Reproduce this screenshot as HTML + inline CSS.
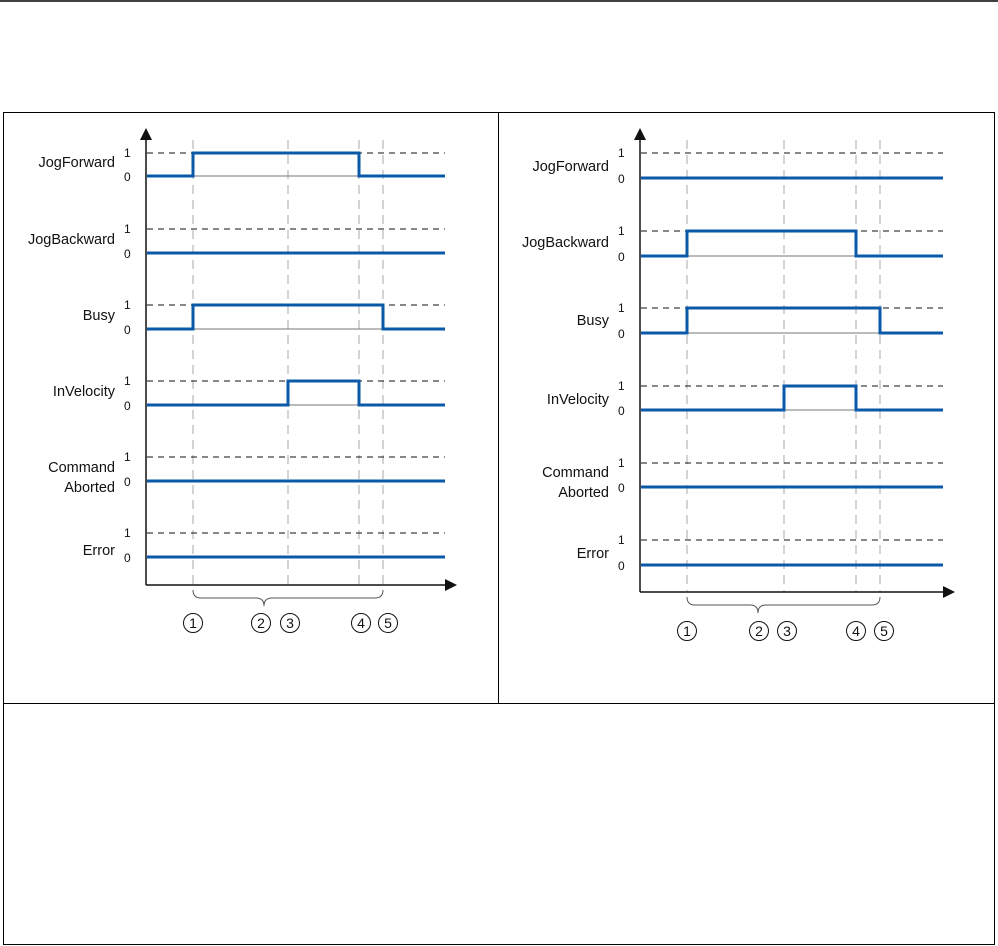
<!DOCTYPE html>
<html><head><meta charset="utf-8"><style>
body{margin:0;background:#fff;}
svg{display:block;font-family:"Liberation Sans",Arial,sans-serif;}
.lbl{font-size:14.5px;fill:#111;text-anchor:end}
.num{font-size:12px;fill:#111}
.dash{stroke:#111;stroke-width:1;stroke-dasharray:6,5}
.vg{stroke:#aaa;stroke-width:1;stroke-dasharray:9,6}
.sig{stroke:#0a5aa8;stroke-width:3;fill:none}
.base{stroke:#777;stroke-width:1}
.ax{stroke:#111;stroke-width:1.5}
.circ{fill:none;stroke:#111;stroke-width:1}
.ct{font-size:14px;fill:#111;text-anchor:middle}
</style></head><body>
<svg width="998" height="946" viewBox="0 0 998 946">
<line x1="0" y1="1" x2="998" y2="1" stroke="#000" stroke-width="1.5"/>
<rect x="3.5" y="112.5" width="991" height="832" fill="none" stroke="#000" stroke-width="1"/>
<line x1="498.5" y1="112" x2="498.5" y2="703" stroke="#000"/>
<line x1="3" y1="703.5" x2="995" y2="703.5" stroke="#000"/>

<!-- LEFT PANEL -->
<g>
<line class="vg" x1="193" y1="140" x2="193" y2="585"/>
<line class="vg" x1="288" y1="140" x2="288" y2="585"/>
<line class="vg" x1="359" y1="140" x2="359" y2="585"/>
<line class="vg" x1="383" y1="140" x2="383" y2="585"/>
<line class="ax" x1="146" y1="138" x2="146" y2="585"/>
<polygon points="146,128 140,140 152,140" fill="#111"/>
<line class="ax" x1="146" y1="585" x2="447" y2="585"/>
<polygon points="457,585 445,579 445,591" fill="#111"/>

<line class="dash" x1="147" y1="153" x2="445" y2="153"/>
<line class="dash" x1="147" y1="229" x2="445" y2="229"/>
<line class="dash" x1="147" y1="305" x2="445" y2="305"/>
<line class="dash" x1="147" y1="381" x2="445" y2="381"/>
<line class="dash" x1="147" y1="457" x2="445" y2="457"/>
<line class="dash" x1="147" y1="533" x2="445" y2="533"/>

<line class="base" x1="193" y1="176" x2="359" y2="176"/>
<line class="base" x1="193" y1="329" x2="383" y2="329"/>
<line class="base" x1="288" y1="405" x2="359" y2="405"/>

<polyline class="sig" points="147,176 193,176 193,153 359,153 359,176 445,176"/>
<polyline class="sig" points="147,253 445,253"/>
<polyline class="sig" points="147,329 193,329 193,305 383,305 383,329 445,329"/>
<polyline class="sig" points="147,405 288,405 288,381 359,381 359,405 445,405"/>
<polyline class="sig" points="147,481 445,481"/>
<polyline class="sig" points="147,557 445,557"/>

<text class="lbl" x="115" y="167">JogForward</text>
<text class="lbl" x="115" y="244">JogBackward</text>
<text class="lbl" x="115" y="320">Busy</text>
<text class="lbl" x="115" y="396">InVelocity</text>
<text class="lbl" x="115" y="472">Command</text>
<text class="lbl" x="115" y="492">Aborted</text>
<text class="lbl" x="115" y="555">Error</text>
<text class="num" x="124" y="157">1</text><text class="num" x="124" y="181">0</text>
<text class="num" x="124" y="233">1</text><text class="num" x="124" y="258">0</text>
<text class="num" x="124" y="309">1</text><text class="num" x="124" y="334">0</text>
<text class="num" x="124" y="385">1</text><text class="num" x="124" y="410">0</text>
<text class="num" x="124" y="461">1</text><text class="num" x="124" y="486">0</text>
<text class="num" x="124" y="537">1</text><text class="num" x="124" y="562">0</text>

<path d="M193,590 Q193,598 201,598 L256,598 Q264,598 264,606 Q264,598 272,598 L375,598 Q383,598 383,590" fill="none" stroke="#555" stroke-width="1"/>
<circle class="circ" cx="193" cy="623" r="9.5"/><text class="ct" x="193" y="628">1</text>
<circle class="circ" cx="261" cy="623" r="9.5"/><text class="ct" x="261" y="628">2</text>
<circle class="circ" cx="290" cy="623" r="9.5"/><text class="ct" x="290" y="628">3</text>
<circle class="circ" cx="361" cy="623" r="9.5"/><text class="ct" x="361" y="628">4</text>
<circle class="circ" cx="388" cy="623" r="9.5"/><text class="ct" x="388" y="628">5</text>
</g>

<!-- RIGHT PANEL -->
<g>
<line class="vg" x1="687" y1="140" x2="687" y2="592"/>
<line class="vg" x1="784" y1="140" x2="784" y2="592"/>
<line class="vg" x1="856" y1="140" x2="856" y2="592"/>
<line class="vg" x1="880" y1="140" x2="880" y2="592"/>
<line class="ax" x1="640" y1="138" x2="640" y2="592"/>
<polygon points="640,128 634,140 646,140" fill="#111"/>
<line class="ax" x1="640" y1="592" x2="945" y2="592"/>
<polygon points="955,592 943,586 943,598" fill="#111"/>

<line class="dash" x1="641" y1="153" x2="943" y2="153"/>
<line class="dash" x1="641" y1="231" x2="943" y2="231"/>
<line class="dash" x1="641" y1="308" x2="943" y2="308"/>
<line class="dash" x1="641" y1="386" x2="943" y2="386"/>
<line class="dash" x1="641" y1="463" x2="943" y2="463"/>
<line class="dash" x1="641" y1="540" x2="943" y2="540"/>

<line class="base" x1="687" y1="256" x2="856" y2="256"/>
<line class="base" x1="687" y1="333" x2="880" y2="333"/>
<line class="base" x1="784" y1="410" x2="856" y2="410"/>

<polyline class="sig" points="641,178 943,178"/>
<polyline class="sig" points="641,256 687,256 687,231 856,231 856,256 943,256"/>
<polyline class="sig" points="641,333 687,333 687,308 880,308 880,333 943,333"/>
<polyline class="sig" points="641,410 784,410 784,386 856,386 856,410 943,410"/>
<polyline class="sig" points="641,487 943,487"/>
<polyline class="sig" points="641,565 943,565"/>

<text class="lbl" x="609" y="171">JogForward</text>
<text class="lbl" x="609" y="247">JogBackward</text>
<text class="lbl" x="609" y="325">Busy</text>
<text class="lbl" x="609" y="404">InVelocity</text>
<text class="lbl" x="609" y="477">Command</text>
<text class="lbl" x="609" y="497">Aborted</text>
<text class="lbl" x="609" y="558">Error</text>
<text class="num" x="618" y="157">1</text><text class="num" x="618" y="183">0</text>
<text class="num" x="618" y="235">1</text><text class="num" x="618" y="261">0</text>
<text class="num" x="618" y="312">1</text><text class="num" x="618" y="338">0</text>
<text class="num" x="618" y="390">1</text><text class="num" x="618" y="415">0</text>
<text class="num" x="618" y="467">1</text><text class="num" x="618" y="492">0</text>
<text class="num" x="618" y="544">1</text><text class="num" x="618" y="570">0</text>

<path d="M687,597 Q687,605 695,605 L750,605 Q758,605 758,613 Q758,605 766,605 L872,605 Q880,605 880,597" fill="none" stroke="#555" stroke-width="1"/>
<circle class="circ" cx="687" cy="631" r="9.5"/><text class="ct" x="687" y="636">1</text>
<circle class="circ" cx="759" cy="631" r="9.5"/><text class="ct" x="759" y="636">2</text>
<circle class="circ" cx="787" cy="631" r="9.5"/><text class="ct" x="787" y="636">3</text>
<circle class="circ" cx="856" cy="631" r="9.5"/><text class="ct" x="856" y="636">4</text>
<circle class="circ" cx="884" cy="631" r="9.5"/><text class="ct" x="884" y="636">5</text>
</g>
</svg>
</body></html>
